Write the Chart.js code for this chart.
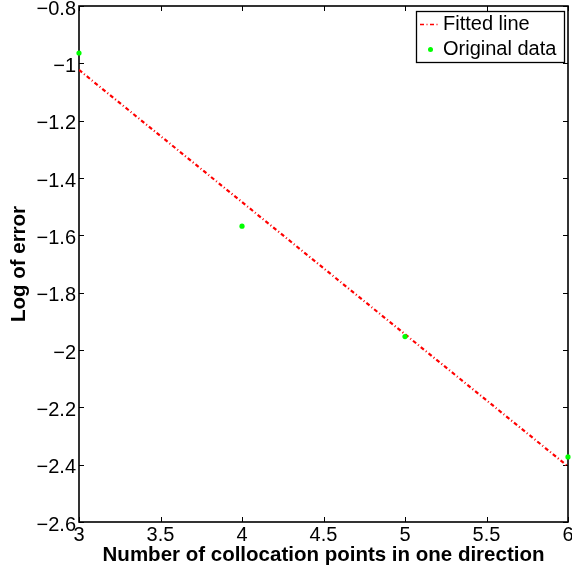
<!DOCTYPE html>
<html>
<head>
<meta charset="utf-8">
<script src="https://cdn.jsdelivr.net/npm/chart.js@4/dist/chart.umd.min.js"></script>
<style>
  html, body { margin: 0; padding: 0; background: #ffffff; }
  #wrap { width: 572px; height: 573px; }
</style>
</head>
<body>
<div id="wrap"><canvas id="c" width="572" height="573"></canvas></div>
<script>
// ---- data ----
const pointsX = [3, 4, 5, 6];
const pointsY = [-0.964, -1.568, -1.953, -2.373];
const fitX = [3, 6];
const fitY = [-1.023, -2.406];
const xTicks = [3, 3.5, 4, 4.5, 5, 5.5, 6];
const yTicks = [-2.6, -2.4, -2.2, -2, -1.8, -1.6, -1.4, -1.2, -1, -0.8];
const seriesNames = ['Fitted line', 'Original data'];
const xTitle = 'Number of collocation points in one direction';
const yTitle = 'Log of error';

const FONT = '"Liberation Sans", Arial, Helvetica, sans-serif';
const FIT_DASH = [4, 2.5, 1, 2.5];

function fmt(v) {
  const s = String(Number(v.toFixed(2)));
  return s.replace('-', '\u2212');
}

const framePlugin = {
  id: 'frame',
  beforeDatasetsDraw(chart) {
    const {ctx, chartArea: a, scales: {x, y}} = chart;
    ctx.save();
    ctx.strokeStyle = '#000';
    ctx.lineWidth = 1.6;
    ctx.strokeRect(a.left, a.top, a.right - a.left, a.bottom - a.top);
    ctx.lineWidth = 1;
    const L = 5;
    ctx.beginPath();
    xTicks.forEach(v => {
      const px = Math.round(x.getPixelForValue(v)) + 0.5;
      ctx.moveTo(px, a.bottom); ctx.lineTo(px, a.bottom - L);
      ctx.moveTo(px, a.top); ctx.lineTo(px, a.top + L);
    });
    yTicks.forEach(v => {
      const py = Math.round(y.getPixelForValue(v)) + 0.5;
      ctx.moveTo(a.left, py); ctx.lineTo(a.left + L, py);
      ctx.moveTo(a.right, py); ctx.lineTo(a.right - L, py);
    });
    ctx.stroke();
    ctx.restore();
  }
};

const legendPlugin = {
  id: 'boxLegend',
  afterDraw(chart) {
    const {ctx} = chart;
    const bx = 416, by = 11, bw = 148, bh = 51;
    ctx.save();
    ctx.fillStyle = '#fff';
    ctx.fillRect(bx, by, bw, bh);
    ctx.strokeStyle = '#000';
    ctx.lineWidth = 1.3;
    ctx.strokeRect(bx + 0.5, by + 0.5, bw, bh);
    // fitted line sample
    ctx.strokeStyle = '#ff0000';
    ctx.lineWidth = 1.6;
    ctx.setLineDash(FIT_DASH);
    ctx.beginPath();
    ctx.moveTo(420, 24.5); ctx.lineTo(438, 24.5);
    ctx.stroke();
    ctx.setLineDash([]);
    // point sample
    ctx.fillStyle = '#00ff00';
    ctx.beginPath();
    ctx.arc(430.5, 49.5, 2.5, 0, Math.PI * 2);
    ctx.fill();
    ctx.fillStyle = '#000';
    ctx.font = '20px ' + FONT;
    ctx.textBaseline = 'middle';
    ctx.textAlign = 'left';
    ctx.fillText(seriesNames[0], 443, 24);
    ctx.fillText(seriesNames[1], 443, 49);
    ctx.restore();
  }
};

new Chart(document.getElementById('c'), {
  type: 'scatter',
  data: {
    datasets: [
      {
        label: seriesNames[0],
        type: 'line',
        data: fitX.map((v, i) => ({x: v, y: fitY[i]})),
        borderColor: '#ff0000',
        borderWidth: 2.2,
        borderDash: FIT_DASH,
        pointRadius: 0,
        fill: false,
        order: 1
      },
      {
        label: seriesNames[1],
        data: pointsX.map((v, i) => ({x: v, y: pointsY[i]})),
        backgroundColor: '#00ff00',
        borderColor: '#00ff00',
        borderWidth: 0,
        pointRadius: 2.6,
        showLine: false,
        clip: false,
        order: 0
      }
    ]
  },
  options: {
    responsive: false,
    animation: false,
    devicePixelRatio: 1,
    layout: { padding: { left: 0, top: 6, right: 3, bottom: 0 } },
    plugins: { legend: { display: false }, tooltip: { enabled: false } },
    scales: {
      x: {
        type: 'linear',
        min: 3, max: 6,
        afterBuildTicks(s) { s.ticks = xTicks.map(v => ({value: v})); },
        afterFit(s) { s.height = 51; s.paddingLeft = 0; s.paddingRight = 0; },
        grid: { display: false, drawTicks: false },
        border: { display: false },
        ticks: {
          color: '#000', padding: 1, maxRotation: 0, autoSkip: false,
          font: { family: FONT, size: 20 },
          callback: v => fmt(v)
        },
        title: {
          display: true, text: xTitle, color: '#000',
          font: { family: FONT, size: 20.5, weight: 'bold' },
          padding: { top: 0, bottom: 5.5 }
        }
      },
      y: {
        type: 'linear',
        min: -2.6, max: -0.8,
        afterBuildTicks(s) { s.ticks = yTicks.map(v => ({value: v})); },
        afterFit(s) { s.width = 79; s.paddingTop = 0; s.paddingBottom = 0; },
        grid: { display: false, drawTicks: false },
        border: { display: false },
        ticks: {
          color: '#000', padding: 3, autoSkip: false, labelOffset: 3,
          font: { family: FONT, size: 20 },
          callback: v => fmt(v)
        },
        title: {
          display: true, text: yTitle, color: '#000',
          font: { family: FONT, size: 20.5, weight: 'bold' },
          padding: { top: 7.5, bottom: 0 }
        }
      }
    }
  },
  plugins: [framePlugin, legendPlugin]
});
</script>
</body>
</html>
